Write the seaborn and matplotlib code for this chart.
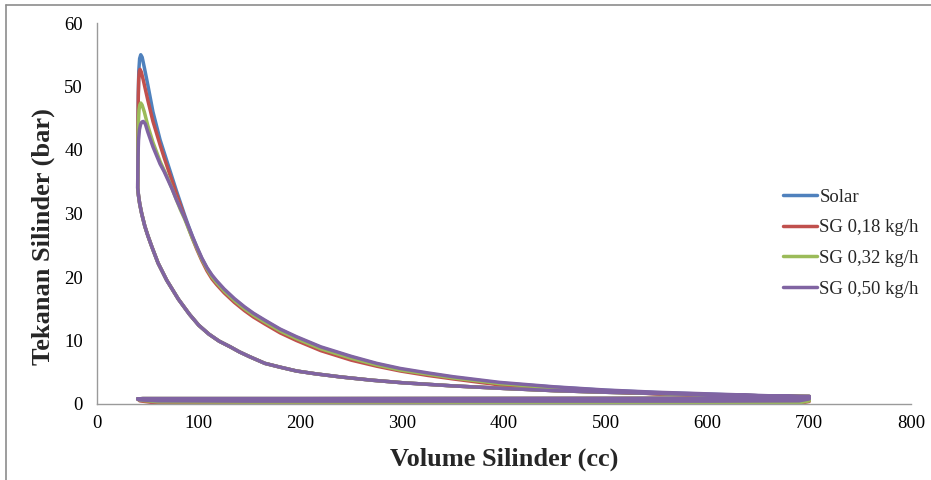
import matplotlib
matplotlib.use("Agg")
import matplotlib.pyplot as plt
from matplotlib.lines import Line2D
import seaborn as sns
import pandas as pd

# ---------------- data ----------------
series_names = ["Solar", "SG 0,18 kg/h", "SG 0,32 kg/h", "SG 0,50 kg/h"]
series_colors = ["#4F81BD", "#C0504D", "#9BBB59", "#8064A2"]

# intake stroke (volume rising 40 -> 700)
intake_vol = [40, 42, 60, 150, 300, 450, 600, 690, 700]
intake_p_solar = [0.8, 0.6, 0.4, 0.35, 0.35, 0.35, 0.35, 0.4, 0.7]
intake_p_sg018 = [0.8, 0.5, 0.12, 0.08, 0.08, 0.08, 0.08, 0.1, 0.4]
intake_p_sg032 = [0.8, 0.6, 0.35, 0.3, 0.3, 0.25, 0.2, 0.2, 0.5]
intake_p_sg050 = [0.8, 0.65, 0.5, 0.45, 0.45, 0.45, 0.45, 0.5, 0.8]

# compression stroke (volume falling 700 -> 40), common to all fuels
comp_vol = [700, 650, 600, 550, 500, 450, 400, 350, 300, 270, 240, 215, 196, 180,
            165, 150, 140, 131, 120, 110, 100, 91, 80, 68.5, 60, 53.8, 50, 47,
            43.9, 42, 40.8, 40]
comp_p = [1.2, 1.3, 1.45, 1.65, 1.85, 2.1, 2.45, 2.85, 3.35, 3.75, 4.25, 4.75, 5.2, 5.8,
          6.4, 7.45, 8.2, 9.0, 9.9, 11.0, 12.4, 14.1, 16.5, 19.5, 22.2, 24.8, 26.5, 28.0,
          30.0, 31.5, 32.8, 34.0]

# combustion + early expansion (volume rising from 40)
head_vol_solar = [40.1, 40.3, 40.6, 41.1, 41.9, 43.0, 44.4, 46.5, 50, 55, 62, 66, 70, 74, 78, 82, 86, 90, 94]
head_p_solar = [38, 44, 49, 52.5, 54.4, 55.0, 54.6, 53.0, 50.2, 46.0, 41.6, 39.6, 37.6, 35.6, 33.6, 31.7, 29.8, 28.0, 26.3]

head_vol_sg018 = [40.1, 40.3, 40.6, 41.0, 41.6, 42.3, 43.5, 45.5, 50, 55, 62, 66, 70, 74, 78, 82, 86, 90, 94]
head_p_sg018 = [38, 44, 48.5, 51.2, 52.4, 52.7, 52.3, 51.0, 47.8, 44.5, 40.8, 38.8, 36.9, 35.0, 33.1, 31.3, 29.5, 27.7, 26.0]

head_vol_sg032 = [40.1, 40.3, 40.7, 41.3, 42.1, 43.0, 44.3, 46.5, 50, 55, 62, 66, 70, 74, 78, 82, 86, 90, 94]
head_p_sg032 = [37, 41.5, 44.5, 46.3, 47.1, 47.4, 47.1, 46.0, 43.8, 41.2, 38.2, 36.8, 35.4, 33.8, 32.2, 30.6, 29.2, 27.6, 26.0]

head_vol_sg050 = [40.1, 40.3, 40.8, 41.7, 42.8, 44.0, 45.5, 47.5, 50, 55, 62, 66, 70, 74, 78, 82, 86, 90, 94]
head_p_sg050 = [36.5, 39.0, 41.5, 43.2, 44.0, 44.4, 44.5, 44.1, 42.8, 40.5, 37.8, 36.6, 35.2, 33.8, 32.2, 30.8, 29.4, 27.9, 26.3]

# late expansion (volume rising 98 -> 700)
tail_vol = [98, 103, 108, 113, 117.6, 125, 135, 145, 153.7, 165, 180, 196, 220, 250,
            275, 298, 325, 350, 396, 450, 500, 550, 600, 650, 700]
tail_p_solar = [24.7, 22.9, 21.4, 20.2, 19.3, 18.0, 16.5, 15.2, 14.2, 13.1, 11.7, 10.5, 8.9, 7.4,
                6.3, 5.5, 4.8, 4.2, 3.3, 2.65, 2.15, 1.8, 1.55, 1.3, 1.1]
tail_p_sg018 = [24.4, 22.6, 21.0, 19.7, 18.8, 17.5, 16.0, 14.7, 13.7, 12.6, 11.2, 10.0, 8.4, 6.9,
                5.95, 5.2, 4.5, 3.95, 3.0, 2.4, 1.95, 1.6, 1.35, 1.1, 0.95]
tail_p_sg032 = [24.6, 22.8, 21.3, 20.0, 19.1, 17.8, 16.3, 15.0, 14.0, 12.9, 11.5, 10.3, 8.7, 7.2,
                6.15, 5.35, 4.7, 4.1, 3.2, 2.55, 2.05, 1.7, 1.45, 1.2, 1.0]
tail_p_sg050 = [24.8, 23.0, 21.5, 20.3, 19.4, 18.1, 16.6, 15.3, 14.3, 13.2, 11.8, 10.6, 9.0, 7.5,
                6.4, 5.6, 4.9, 4.3, 3.4, 2.7, 2.2, 1.85, 1.6, 1.35, 1.1]

# exhaust stroke (volume falling 700 -> 40)
exh_vol = [700, 690, 600, 500, 400, 300, 200, 100, 45, 40]
exh_p = [1.0, 0.95, 0.9, 0.88, 0.87, 0.86, 0.85, 0.85, 0.85, 0.8]

x_ticks = [0, 100, 200, 300, 400, 500, 600, 700, 800]
y_ticks = [0, 10, 20, 30, 40, 50, 60]

# ---------------- build table ----------------
intakes = [intake_p_solar, intake_p_sg018, intake_p_sg032, intake_p_sg050]
head_vols = [head_vol_solar, head_vol_sg018, head_vol_sg032, head_vol_sg050]
head_ps = [head_p_solar, head_p_sg018, head_p_sg032, head_p_sg050]
tail_ps = [tail_p_solar, tail_p_sg018, tail_p_sg032, tail_p_sg050]

rows = []
for name, ip, hv, hp, tp in zip(series_names, intakes, head_vols, head_ps, tail_ps):
    vols = intake_vol + comp_vol + hv + tail_vol + exh_vol
    ps = ip + comp_p + hp + tp + exh_p
    for i, (v, p) in enumerate(zip(vols, ps)):
        rows.append({"series": name, "vol": v, "p": p, "idx": i})
df = pd.DataFrame(rows)

# ---------------- plot ----------------
sns.set_style("white")
plt.rcParams["font.family"] = ["Liberation Serif", "DejaVu Serif"]

fig = plt.figure(figsize=(9.31, 4.80), dpi=100)
ax = fig.add_axes([97 / 931, 76 / 480, (911 - 97) / 931, (404 - 23) / 480])

sns.lineplot(data=df, x="vol", y="p", hue="series", hue_order=series_names,
             palette=series_colors, sort=False, estimator=None,
             linewidth=2.5, ax=ax)
for ln in ax.lines:
    ln.set_solid_joinstyle("round")
    ln.set_solid_capstyle("round")

ax.set_xlim(0, 800)
ax.set_ylim(0, 60)
ax.set_xticks(x_ticks)
ax.set_yticks(y_ticks)
ax.tick_params(axis="both", which="both", length=0, labelsize=13.5, colors="#000000")
ax.tick_params(axis="x", pad=8)
ax.tick_params(axis="y", pad=10)

for s in ["top", "right"]:
    ax.spines[s].set_visible(False)
for s in ["left", "bottom"]:
    ax.spines[s].set_color("#9a9a9a")
    ax.spines[s].set_linewidth(1.0)

ax.set_xlabel("Volume Silinder (cc)", fontsize=19, fontweight="bold", labelpad=11)
ax.set_ylabel("Tekanan Silinder (bar)", fontsize=19, fontweight="bold")
ax.yaxis.set_label_coords(-0.052, 0.44)

handles, labels = ax.get_legend_handles_labels()
ax.legend(handles, labels, loc="center left", frameon=False,
          bbox_to_anchor=(775 / 931, 1 - 243 / 480), bbox_transform=fig.transFigure,
          borderaxespad=0, fontsize=13.5, handlelength=1.85, handletextpad=0.12,
          labelspacing=0.72)

# outer chart border (top and left visible in the reference crop)
fig.add_artist(Line2D([6 / 931, 6 / 931], [0, 1 - 5 / 480], transform=fig.transFigure,
                      color="#8c8c8c", lw=1.2))
fig.add_artist(Line2D([6 / 931, 1], [1 - 5 / 480, 1 - 5 / 480], transform=fig.transFigure,
                      color="#8c8c8c", lw=1.2))

fig.savefig("out.png", dpi=100)
